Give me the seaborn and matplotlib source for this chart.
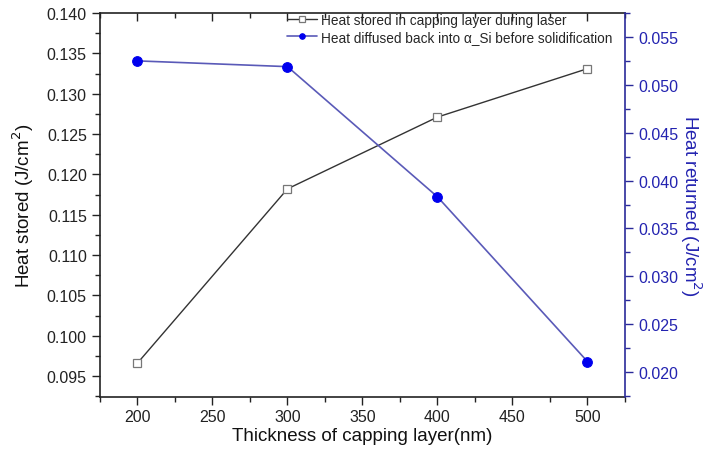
import matplotlib
matplotlib.use("Agg")
import matplotlib.pyplot as plt
from matplotlib.ticker import MultipleLocator, FormatStrFormatter
import seaborn as sns
import pandas as pd

# Capping layer thickness (nm)
thickness = [200, 300, 400, 500]
# Heat stored in capping layer during laser (J/cm^2)
heat_stored = [0.0966, 0.1182, 0.1271, 0.1331]
# Heat diffused back into a-Si before solidification (J/cm^2)
heat_returned = [0.0525, 0.0519, 0.0383, 0.0211]

stored_label = "Heat stored in capping layer during laser"
returned_label = "Heat diffused back into \u03b1_Si before solidification"

sns.set_theme(style="white")
plt.rcParams["font.family"] = ["Liberation Sans", "DejaVu Sans"]

df = pd.DataFrame({"thickness": thickness,
                   "stored": heat_stored,
                   "returned": heat_returned})

fig = plt.figure(figsize=(7.05, 4.52), dpi=100)
ax = fig.add_axes([0.1418, 0.1195, 0.7447, 0.8495])
ax2 = ax.twinx()

blue_axis = "#2a2a9a"

sns.lineplot(data=df, x="thickness", y="stored", ax=ax, color="#333333",
             lw=1.0, marker="s", markersize=6, markerfacecolor="white",
             markeredgecolor="#777777", markeredgewidth=0.9, label=stored_label,
             legend=False)
sns.lineplot(data=df, x="thickness", y="returned", ax=ax2, color="#5a5ab8",
             lw=1.2, marker="o", markersize=7, markerfacecolor="#0000ee",
             markeredgecolor="#0000ee", label=returned_label, legend=False)

ax.set_xlim(175, 525)
ax.set_ylim(0.0924, 0.140)
ax2.set_ylim(0.0174, 0.0575)

ax.xaxis.set_major_locator(MultipleLocator(50))
ax.xaxis.set_minor_locator(MultipleLocator(25))
ax.yaxis.set_major_locator(MultipleLocator(0.005))
ax.yaxis.set_minor_locator(MultipleLocator(0.0025))
ax.yaxis.set_major_formatter(FormatStrFormatter("%.3f"))
ax2.yaxis.set_major_locator(MultipleLocator(0.005))
ax2.yaxis.set_minor_locator(MultipleLocator(0.0025))
ax2.yaxis.set_major_formatter(FormatStrFormatter("%.3f"))

for sp in ["left", "bottom", "top"]:
    ax.spines[sp].set_color("#222222")
    ax.spines[sp].set_linewidth(1.2)
ax.spines["right"].set_visible(False)
for sp in ["left", "bottom", "top"]:
    ax2.spines[sp].set_visible(False)
ax2.spines["right"].set_color(blue_axis)
ax2.spines["right"].set_linewidth(1.2)

ax.tick_params(axis="x", which="both", bottom=True, top=False, direction="out",
               colors="#222222", labelsize=11.5, pad=3)
ax.tick_params(axis="x", which="major", length=6, width=1)
ax.tick_params(axis="x", which="minor", length=3.5, width=1)
ax.tick_params(axis="y", which="both", left=True, direction="out",
               colors="#222222", labelsize=11.5)
ax.tick_params(axis="y", which="major", length=6, width=1)
ax.tick_params(axis="y", which="minor", length=3.5, width=1)

ax2.tick_params(axis="y", which="both", right=True, direction="out",
                colors=blue_axis, labelsize=11.5, labelcolor="#2323b0")
ax2.tick_params(axis="y", which="major", length=6, width=1)
ax2.tick_params(axis="y", which="minor", length=3.5, width=1)

# Top ticks point into the plot
secx = ax.secondary_xaxis("top")
secx.xaxis.set_major_locator(MultipleLocator(50))
secx.xaxis.set_minor_locator(MultipleLocator(25))
secx.tick_params(axis="x", which="both", direction="in", labeltop=False,
                 colors="#222222")
secx.tick_params(axis="x", which="major", length=6, width=1)
secx.tick_params(axis="x", which="minor", length=3.5, width=1)
secx.spines["top"].set_visible(False)

ax.set_xlabel("Thickness of capping layer(nm)", fontsize=13.5, color="#111111",
              labelpad=2)
ax.set_ylabel("Heat stored (J/cm$^2$)", fontsize=13.5, color="#111111",
              labelpad=8)
ax2.set_ylabel("Heat returned (J/cm$^2$)", fontsize=13.5, color="#2323b0",
               rotation=270, labelpad=18)

handles = ax.get_lines()[:1] + ax2.get_lines()[:1]
leg = ax.legend(handles, [stored_label, returned_label], loc="upper right",
                bbox_to_anchor=(0.995, 1.025), frameon=False, fontsize=9.8,
                handlelength=2.2, handletextpad=0.3, borderpad=0.2,
                labelspacing=0.2)
for h in leg.legend_handles:
    h.set_markersize(4)

fig.savefig("out.png", dpi=100)
